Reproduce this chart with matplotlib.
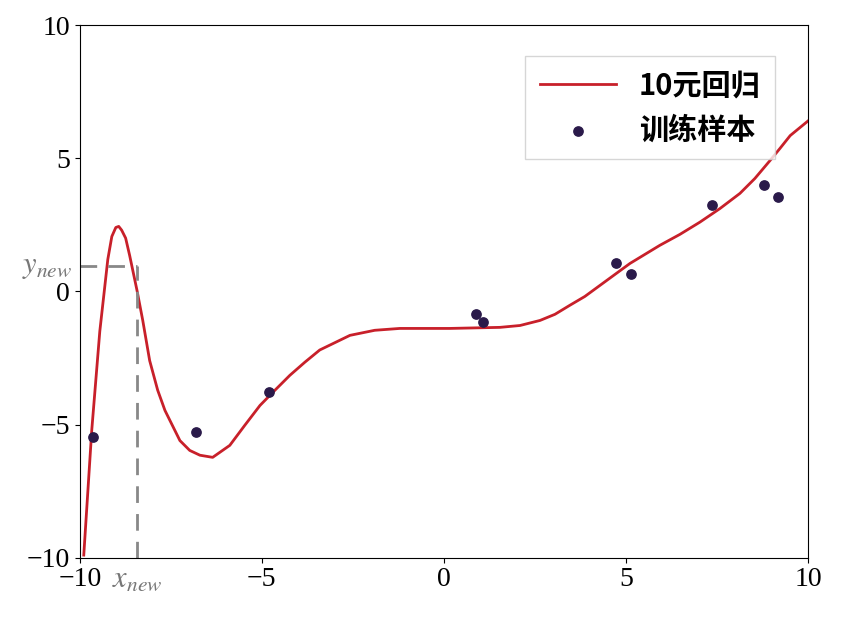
import matplotlib
matplotlib.use("Agg")
import matplotlib.pyplot as plt

plt.rcParams.update({"font.family": ["Liberation Serif", "Noto Sans CJK SC"],
                     "mathtext.fontset": "stix", "font.size": 20})

# training samples
sample_x = [-9.64, -6.81, -4.81, 0.88, 1.07, 4.73, 5.14, 7.36, 8.79, 9.18]
sample_y = [-5.48, -5.29, -3.79, -0.83, -1.13, 1.05, 0.64, 3.23, 3.98, 3.56]

# fitted curve
curve_x = [-9.89, -9.67, -9.45, -9.23, -9.12, -9.01, -8.93, -8.85, -8.74, -8.63,
           -8.43, -8.27, -8.08, -7.86, -7.66, -7.25, -6.98, -6.70, -6.35, -5.88,
           -5.47, -5.05, -4.64, -4.23, -3.82, -3.41, -2.58, -1.90, -1.21, 0.16,
           1.54, 2.09, 2.64, 3.05, 3.46, 3.87, 4.29, 4.70, 5.11, 5.52, 5.93,
           6.48, 7.03, 7.58, 8.13, 8.54, 8.96, 9.23, 9.51, 10.0]
curve_y = [-9.9, -5.2, -1.5, 1.2, 2.06, 2.4, 2.44, 2.3, 2.0, 1.35,
           0.05, -1.09, -2.6, -3.71, -4.47, -5.6, -5.97, -6.15, -6.23, -5.78,
           -5.03, -4.28, -3.71, -3.15, -2.66, -2.2, -1.65, -1.46, -1.39, -1.39,
           -1.35, -1.28, -1.09, -0.86, -0.52, -0.19, 0.23, 0.64, 1.05, 1.39, 1.73,
           2.14, 2.6, 3.11, 3.68, 4.24, 4.92, 5.37, 5.85, 6.4]

x_new, y_new = -8.43, 0.94

fig = plt.figure(figsize=(8.67, 6.26), dpi=100)
ax = fig.add_axes([0.092, 0.109, 0.84, 0.851])
ax.plot(curve_x, curve_y, color="#c8202a", lw=2, label="10元回归")
ax.scatter(sample_x, sample_y, color="#2a1a4a", s=45, zorder=3, label="训练样本")
ax.plot([x_new, x_new], [-10, y_new], color="#888888", lw=2, dashes=(6, 4))
ax.plot([-10, x_new], [y_new, y_new], color="#888888", lw=2, dashes=(6, 4))
ax.text(-10.2, y_new, "$y_{new}$", color="#777777", ha="right", va="center", fontsize=22)
ax.text(x_new, -10.25, "$x_{new}$", color="#777777", ha="center", va="top", fontsize=22)
ax.set_xlim(-10, 10)
ax.set_ylim(-10, 10)
ax.set_xticks([-10, -5, 0, 5, 10])
ax.set_yticks([-10, -5, 0, 5, 10])
ax.legend(loc="upper right", prop={"family": "Noto Sans CJK SC", "weight": "bold", "size": 21},
          fancybox=False, edgecolor="#cccccc", borderpad=0.5, handlelength=2.6,
          bbox_to_anchor=(0.975, 0.97))
fig.savefig("out.png", dpi=100)
